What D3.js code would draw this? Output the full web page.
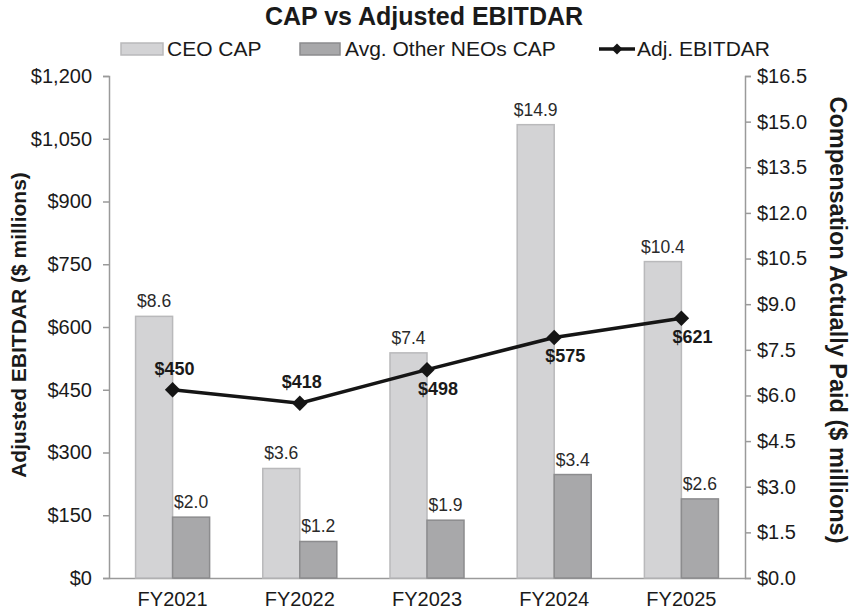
<html>
<head>
<meta charset="utf-8">
<title>CAP vs Adjusted EBITDAR</title>
<script src="https://cdn.jsdelivr.net/npm/d3@7"></script>
<style>
  body { margin: 0; background: #fff; }
  text { font-family: "Liberation Sans", Arial, sans-serif; fill: #1a1a1a; }
</style>
</head>
<body>
<svg id="chart" width="852" height="615"></svg>
<script>
    // data
    var years = ["FY2021", "FY2022", "FY2023", "FY2024", "FY2025"];
    var ceoCap = [8.6, 3.6, 7.4, 14.9, 10.4];
    var neoCap = [2.0, 1.2, 1.9, 3.4, 2.6];
    var ebitdar = [450, 418, 498, 575, 621];
    var leftTicks = [0, 150, 300, 450, 600, 750, 900, 1050, 1200];
    var rightTicks = [0, 1.5, 3.0, 4.5, 6.0, 7.5, 9.0, 10.5, 12.0, 13.5, 15.0, 16.5];
    var seriesNames = ["CEO CAP", "Avg. Other NEOs CAP", "Adj. EBITDAR"];
    // label placement for the EBITDAR points
    var labelBelow = [false, false, true, true, true];

    var plotL = 109, plotR = 745, plotT = 76, plotB = 578;
    var svg = d3.select("#chart");

    var x = d3.scaleBand().domain(years).range([plotL, plotR])
        .paddingInner(0.418).paddingOuter(0.209);
    var xs = d3.scaleBand().domain(["ceo", "neo"]).range([0, x.bandwidth()]);
    var yL = d3.scaleLinear().domain([0, 1200]).range([plotB, plotT]);
    var yR = d3.scaleLinear().domain([0, 16.5]).range([plotB, plotT]);

    var rows = years.map(function(y, i) {
        return { year: y, ceo: ceoCap[i], neo: neoCap[i], e: ebitdar[i], below: labelBelow[i] };
    });

    // axes
    var axL = svg.append("g").attr("transform", "translate(" + plotL + ",0)")
        .call(d3.axisLeft(yL).tickValues(leftTicks).tickSizeOuter(0).tickSize(6).tickPadding(11)
            .tickFormat(function(d) { return "$" + d3.format(",")(d); }));
    var axR = svg.append("g").attr("transform", "translate(" + plotR + ",0)")
        .call(d3.axisRight(yR).tickValues(rightTicks).tickSizeOuter(0).tickSize(6).tickPadding(6)
            .tickFormat(function(d) { return "$" + d3.format(".1f")(d); }));
    var axB = svg.append("g").attr("transform", "translate(0," + plotB + ")")
        .call(d3.axisBottom(x).tickSize(0).tickSizeOuter(0).tickPadding(14));

    [axL, axR, axB].forEach(function(a) {
        a.selectAll("path, line").attr("stroke", "#9a9a9a").attr("stroke-width", 1.5);
        a.selectAll("text").attr("font-size", 20).attr("fill", "#1a1a1a")
            .style("font-family", '"Liberation Sans", Arial, sans-serif');
    });

    // bars
    var groups = svg.append("g").selectAll("g").data(rows).enter().append("g")
        .attr("transform", function(d) { return "translate(" + x(d.year) + ",0)"; });

    groups.append("rect")
        .attr("x", xs("ceo")).attr("width", xs.bandwidth())
        .attr("y", function(d) { return yR(d.ceo); })
        .attr("height", function(d) { return plotB - yR(d.ceo); })
        .attr("fill", "#d3d3d5").attr("stroke", "#b9b9bb").attr("stroke-width", 1.5);
    groups.append("rect")
        .attr("x", xs("neo")).attr("width", xs.bandwidth())
        .attr("y", function(d) { return yR(d.neo); })
        .attr("height", function(d) { return plotB - yR(d.neo); })
        .attr("fill", "#a8a8aa").attr("stroke", "#8c8c8e").attr("stroke-width", 1.5);

    groups.append("text")
        .attr("x", xs("ceo") + xs.bandwidth() / 2)
        .attr("y", function(d) { return yR(d.ceo) - 9; })
        .attr("text-anchor", "middle").attr("font-size", 17.5).style("fill", "#2a2a2a")
        .text(function(d) { return "$" + d.ceo.toFixed(1); });
    groups.append("text")
        .attr("x", xs("neo") + xs.bandwidth() / 2)
        .attr("y", function(d) { return yR(d.neo) - 9; })
        .attr("text-anchor", "middle").attr("font-size", 17.5).style("fill", "#2a2a2a")
        .text(function(d) { return "$" + d.neo.toFixed(1); });

    // EBITDAR line
    var cx = function(d) { return x(d.year) + x.bandwidth() / 2; };
    var line = d3.line().x(cx).y(function(d) { return yL(d.e); });
    svg.append("path").datum(rows).attr("d", line)
        .attr("fill", "none").attr("stroke", "#151515").attr("stroke-width", 3.5);
    var diamond = d3.symbol().type(d3.symbolSquare).size(120);
    svg.append("g").selectAll("path").data(rows).enter().append("path")
        .attr("d", diamond)
        .attr("transform", function(d) { return "translate(" + cx(d) + "," + yL(d.e) + ") rotate(45)"; })
        .attr("fill", "#151515");
    svg.append("g").selectAll("text").data(rows).enter().append("text")
        .attr("x", function(d) { return cx(d) + (d.below ? 11 : 2); })
        .attr("y", function(d) { return yL(d.e) + (d.below ? 25 : -15); })
        .attr("text-anchor", "middle").attr("font-size", 18).attr("font-weight", "bold")
        .text(function(d) { return "$" + d.e; });

    // title
    svg.append("text").attr("x", 424).attr("y", 25).attr("text-anchor", "middle")
        .attr("font-size", 25).attr("font-weight", "bold").text("CAP vs Adjusted EBITDAR");

    // legend
    var lg = svg.append("g");
    lg.append("rect").attr("x", 121).attr("y", 43).attr("width", 42).attr("height", 12)
        .attr("fill", "#d3d3d5").attr("stroke", "#b9b9bb").attr("stroke-width", 1.5);
    lg.append("text").attr("x", 167).attr("y", 56).attr("font-size", 21).text(seriesNames[0]);
    lg.append("rect").attr("x", 300).attr("y", 43).attr("width", 40).attr("height", 12)
        .attr("fill", "#a8a8aa").attr("stroke", "#8c8c8e").attr("stroke-width", 1.5);
    lg.append("text").attr("x", 345).attr("y", 56).attr("font-size", 21).text(seriesNames[1]);
    lg.append("line").attr("x1", 599).attr("x2", 635).attr("y1", 49).attr("y2", 49)
        .attr("stroke", "#151515").attr("stroke-width", 3.5);
    lg.append("path").attr("d", d3.symbol().type(d3.symbolSquare).size(60))
        .attr("transform", "translate(617,49) rotate(45)").attr("fill", "#151515");
    lg.append("text").attr("x", 637).attr("y", 56).attr("font-size", 21).text(seriesNames[2]);

    // axis titles
    svg.append("text").attr("transform", "translate(26,325) rotate(-90)")
        .attr("text-anchor", "middle").attr("font-size", 21).attr("font-weight", "bold")
        .text("Adjusted EBITDAR ($ millions)");
    svg.append("text").attr("transform", "translate(830,320) rotate(90)")
        .attr("text-anchor", "middle").attr("font-size", 23.5).attr("font-weight", "bold")
        .text("Compensation Actually Paid ($ millions)");
</script>
</body>
</html>
